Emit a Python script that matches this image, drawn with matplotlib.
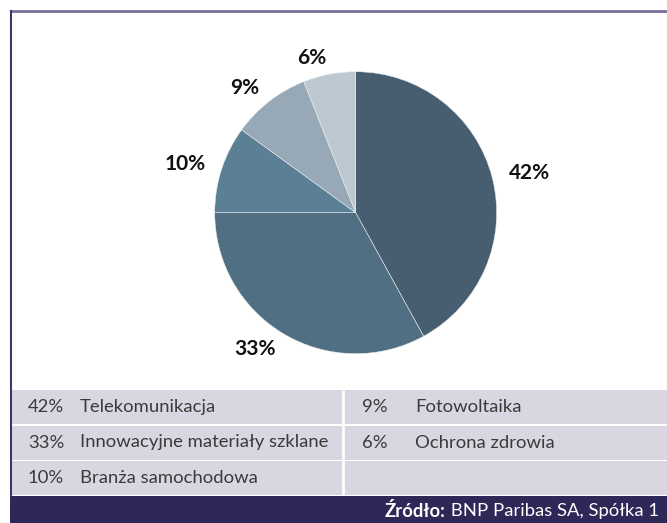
import matplotlib
matplotlib.use("Agg")
import matplotlib.pyplot as plt
from matplotlib.patches import Rectangle

# data
categories = ["Telekomunikacja", "Innowacyjne materiały szklane", "Branża samochodowa",
              "Fotowoltaika", "Ochrona zdrowia"]
shares = [42, 33, 10, 9, 6]
labels = ["42%", "33%", "10%", "9%", "6%"]
colors = ["#475e71", "#516f82", "#5b8096", "#97a8b6", "#bdc9d1"]
source_bold = "Źródło:"
source_text = " BNP Paribas SA, Spółka 1"

W, H = 667, 523
fig = plt.figure(figsize=(W / 100, H / 100), dpi=100)

# background layer in pixel coordinates
bg = fig.add_axes([0, 0, 1, 1])
bg.set_xlim(0, W)
bg.set_ylim(H, 0)
bg.axis("off")

# frame
bg.plot([10, W], [11, 11], color="#75709a", lw=2, solid_capstyle="butt")
bg.plot([10.5, 10.5], [10, 497], color="#3d3668", lw=1.5, solid_capstyle="butt")

# legend table
row_top = 390
row_h = 34
row_pitch = 35.5
for i in range(3):
    y = row_top + i * row_pitch
    bg.add_patch(Rectangle((11, y), W - 11, row_h, color="#d8d7e1", lw=0))
bg.plot([343, 343], [row_top, row_top + 2 * row_pitch + row_h], color="white", lw=2,
        solid_capstyle="butt")

txt_font = "Lato"
fs = 13.3
for i, (cat, lab) in enumerate(zip(categories, labels)):
    col = i // 3
    row = i % 3
    y = row_top + row * row_pitch + row_h / 2
    xp = 28 if col == 0 else 362
    xl = 80 if col == 0 else 415
    bg.text(xp, y, lab, fontsize=fs, family=txt_font, color="#3a3a3a",
            va="center", ha="left")
    bg.text(xl, y, cat, fontsize=fs, family=txt_font, color="#3a3a3a",
            va="center", ha="left")

# footer
bg.add_patch(Rectangle((10, 496), W - 10, H - 496, color="#2e2859", lw=0))
t2 = bg.text(659, 511, source_text, fontsize=fs, family=txt_font,
             color="white", va="center", ha="right")
fig.canvas.draw()
bb = t2.get_window_extent()
x0 = bb.x0 * W / fig.bbox.width
bg.text(x0, 511, source_bold, fontsize=fs, family=txt_font, color="white",
        weight="bold", va="center", ha="right")

# pie
cx, cy, r = 355.7, 212.7, 141
ax = fig.add_axes([(cx - r) / W, (H - cy - r) / H, 2 * r / W, 2 * r / H])
wedges, texts = ax.pie(shares, labels=labels, colors=colors, startangle=90,
                       counterclock=False, labeldistance=1.12,
                       wedgeprops=dict(edgecolor="#e8ecef", linewidth=0.4),
                       textprops=dict(fontsize=15, family=txt_font, weight="bold",
                                      color="#111111"))
ax.set_xlim(-1, 1)
ax.set_ylim(-1, 1)
ax.set_aspect("auto")

fig.savefig("out.png", dpi=100)
